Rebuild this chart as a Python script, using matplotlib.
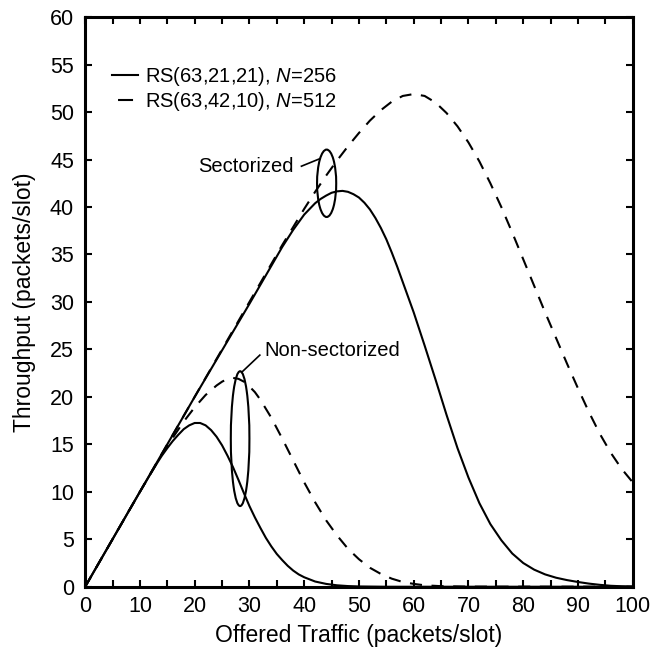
import numpy as np
import matplotlib
matplotlib.use('Agg')
import matplotlib.pyplot as plt
from matplotlib.patches import Ellipse
from matplotlib.ticker import MultipleLocator

plt.rcParams['font.family'] = ['Liberation Sans', 'DejaVu Sans']
plt.rcParams['mathtext.fontset'] = 'custom'
plt.rcParams['mathtext.rm'] = 'Liberation Sans'
plt.rcParams['mathtext.it'] = 'Liberation Sans:italic'

# carga oferecida (pacotes/slot) e vazão
g_ns_rs21 = [0, 5, 10, 12, 13, 14, 15, 16, 17, 18, 19, 20, 21, 22, 23, 24, 25, 26, 27, 28, 29,
             30, 31, 32, 33, 34, 35, 36, 37, 38, 39, 40, 42, 44, 46, 48, 50, 55, 100]
s_ns_rs21 = [0, 5, 10, 11.95, 12.9, 13.8, 14.6, 15.35, 16.0, 16.6, 17.0, 17.25, 17.25, 17.0,
             16.5, 15.8, 14.9, 13.8, 12.6, 11.25, 9.85, 8.5, 7.3, 6.2, 5.15, 4.25, 3.45, 2.8,
             2.2, 1.7, 1.3, 1.0, 0.55, 0.3, 0.15, 0.07, 0.03, 0, 0]

g_ns_rs42 = [0, 10, 14, 16, 18, 20, 22, 24, 25, 26, 27, 28, 29, 30, 31, 32, 34, 36, 38, 40, 42,
             44, 46, 48, 50, 52, 54, 56, 58, 60, 62, 65, 70, 100]
s_ns_rs42 = [0, 10, 13.9, 15.7, 17.4, 18.9, 20.2, 21.2, 21.6, 21.9, 22.0, 21.9, 21.6, 21.1,
             20.5, 19.7, 17.8, 15.6, 13.3, 11.0, 8.9, 7.0, 5.4, 4.0, 2.9, 2.0, 1.35, 0.85, 0.5,
             0.3, 0.15, 0.06, 0.01, 0]

g_s_rs21 = [0, 10, 20, 30, 36, 38, 40, 41, 42, 43, 44, 45, 46, 47, 48, 49, 50, 51, 52, 53, 54,
            55, 56, 57, 58, 59, 60, 62, 64, 66, 68, 70, 72, 74, 76, 78, 80, 82, 84, 86, 88, 90,
            92, 94, 96, 98, 100]
s_s_rs21 = [0, 10, 20, 29.8, 35.8, 37.6, 39.2, 39.8, 40.4, 40.85, 41.2, 41.5, 41.65, 41.7, 41.6,
            41.35, 41.0, 40.45, 39.75, 38.85, 37.8, 36.6, 35.2, 33.7, 32.1, 30.5, 28.9, 25.4,
            21.8, 18.1, 14.6, 11.5, 8.8, 6.6, 4.9, 3.5, 2.5, 1.8, 1.3, 0.95, 0.7, 0.5, 0.33,
            0.2, 0.1, 0.05, 0.02]

g_s_rs42 = [0, 10, 20, 30, 36, 38, 40, 42, 44, 46, 48, 50, 52, 54, 56, 58, 60, 62, 64, 66, 68,
            70, 72, 74, 76, 78, 80, 82, 84, 86, 88, 90, 92, 94, 96, 98, 100]
s_s_rs42 = [0, 10, 20, 30, 36, 37.9, 39.8, 41.6, 43.3, 44.9, 46.4, 47.8, 49.1, 50.2, 51.1, 51.7,
            51.9, 51.7, 51.0, 49.9, 48.5, 46.8, 44.8, 42.5, 40.0, 37.3, 34.5, 31.7, 28.9, 26.2,
            23.5, 20.9, 18.4, 16.1, 14.1, 12.4, 11.0]

lbl_rs21 = r'RS(63,21,21), $N$=256'
lbl_rs42 = r'RS(63,42,10), $N$=512'

lw = 1.5
dash = (0, (5.8, 4.6))

fig = plt.figure(figsize=(6.55, 6.6), dpi=100)
ax = fig.add_axes([0.130, 0.111, 0.836, 0.863])

ax.plot(g_ns_rs21, s_ns_rs21, color='black', lw=lw, label=lbl_rs21)
ax.plot(g_ns_rs42, s_ns_rs42, color='black', lw=lw, linestyle=dash, label=lbl_rs42)
ax.plot(g_s_rs21, s_s_rs21, color='black', lw=lw)
ax.plot(g_s_rs42, s_s_rs42, color='black', lw=lw, linestyle=dash)

# elipses marcando os grupos de curvas
ax.add_patch(Ellipse((44.1, 42.5), 3.5, 7.1, fill=False, ec='black', lw=lw))
ax.add_patch(Ellipse((28.3, 15.6), 3.4, 14.2, fill=False, ec='black', lw=lw))

ax.text(38.0, 44.3, 'Sectorized', ha='right', va='center', fontsize=14.5)
ax.plot([39.5, 42.9], [44.3, 45.1], color='black', lw=1.2)
ax.text(32.8, 24.9, 'Non-sectorized', ha='left', va='center', fontsize=14.5)
ax.plot([31.9, 28.6], [24.4, 22.6], color='black', lw=1.2)

ax.set_xlim(0, 100)
ax.set_ylim(0, 60)
ax.xaxis.set_major_locator(MultipleLocator(10))
ax.xaxis.set_minor_locator(MultipleLocator(5))
ax.yaxis.set_major_locator(MultipleLocator(5))
ax.tick_params(which='both', direction='in', top=True, right=True, length=5, width=1.5)
ax.tick_params(axis='x', labelsize=15.5, pad=7)
ax.tick_params(axis='y', labelsize=15.5, pad=8)
for sp in ax.spines.values():
    sp.set_linewidth(2.2)

ax.set_xlabel('Offered Traffic (packets/slot)', fontsize=16.5, labelpad=5)
ax.set_ylabel('Throughput (packets/slot)', fontsize=16.5, labelpad=10)

leg = ax.legend(loc='upper left', bbox_to_anchor=(0.049, 0.916), frameon=False, fontsize=14.5,
                handlelength=1.3, handletextpad=0.35, labelspacing=0.08, borderaxespad=0,
                borderpad=0)
# traço único centrado na amostra da legenda tracejada
leg.get_lines()[1].set_linestyle((14.3, (7.2, 10.0)))

fig.savefig('out.png', dpi=100)
